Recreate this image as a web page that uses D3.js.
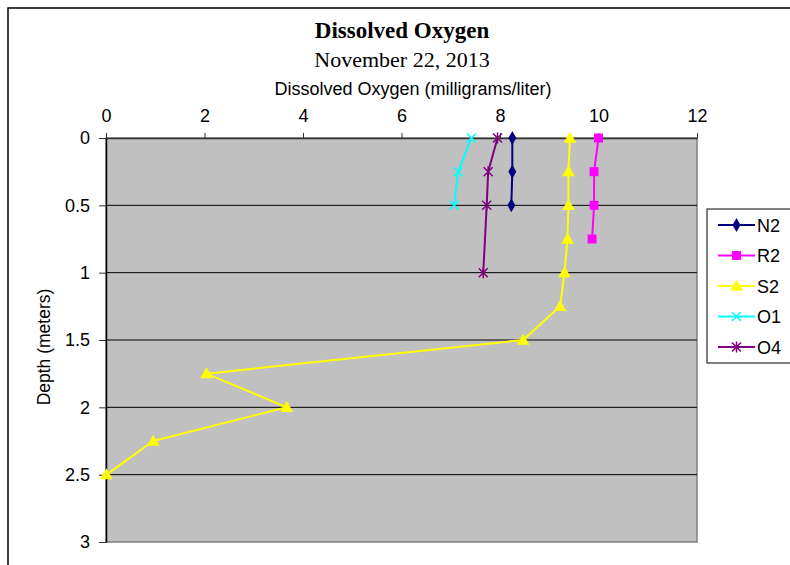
<!DOCTYPE html>
<html>
<head>
<meta charset="utf-8">
<script src="https://cdn.jsdelivr.net/npm/d3@7"></script>
<style>
  body { margin: 0; background: #fff; }
  svg { display: block; }
</style>
</head>
<body>
<svg id="chart" width="790" height="565"></svg>
<script>
// data (depth in meters, DO in mg/l)
const seriesNames = ["N2", "R2", "S2", "O1", "O4"];
const seriesColors = ["#000080", "#ff00ff", "#ffff00", "#00ffff", "#800080"];
const n2Depth = [0, 0.25, 0.5];
const n2Value = [8.25, 8.25, 8.23];
const r2Depth = [0, 0.25, 0.5, 0.75];
const r2Value = [10.0, 9.91, 9.91, 9.87];
const s2Depth = [0, 0.25, 0.5, 0.75, 1.0, 1.25, 1.5, 1.75, 2.0, 2.25, 2.5];
const s2Value = [9.42, 9.39, 9.39, 9.37, 9.31, 9.22, 8.47, 2.04, 3.67, 0.96, 0.01];
const o1Depth = [0, 0.25, 0.5];
const o1Value = [7.42, 7.15, 7.07];
const o4Depth = [0, 0.25, 0.5, 1.0];
const o4Value = [7.95, 7.76, 7.73, 7.66];
const xTicks = [0, 2, 4, 6, 8, 10, 12];
const yTicks = [0, 0.5, 1, 1.5, 2, 2.5, 3];

const series = [
    { name: "N2", depth: n2Depth, value: n2Value, symbol: d3.symbolDiamond },
    { name: "R2", depth: r2Depth, value: r2Value, symbol: d3.symbolSquare },
    { name: "S2", depth: s2Depth, value: s2Value, symbol: d3.symbolTriangle },
    { name: "O1", depth: o1Depth, value: o1Value, symbol: "x" },
    { name: "O4", depth: o4Depth, value: o4Value, symbol: "star" }
];

const sans = "Liberation Sans, Arial, sans-serif";
const serif = "Liberation Serif, Times New Roman, serif";

const svg = d3.select("#chart");
const plot = { left: 106, top: 138, right: 697, bottom: 542 };

const x = d3.scaleLinear().domain([0, 12]).range([plot.left, plot.right]);
const y = d3.scaleLinear().domain([0, 3]).range([plot.top, plot.bottom]);

// outer chart frame
svg.append("rect")
    .attr("x", 8).attr("y", 8)
    .attr("width", 800).attr("height", 600)
    .attr("fill", "#fff")
    .attr("stroke", "#000")
    .attr("stroke-width", 1.5);

// plot area
svg.append("rect")
    .attr("x", plot.left).attr("y", plot.top)
    .attr("width", plot.right - plot.left)
    .attr("height", plot.bottom - plot.top)
    .attr("fill", "#c0c0c0")
    .attr("stroke", "#808080")
    .attr("stroke-width", 1.5);

// horizontal gridlines
svg.append("g")
    .selectAll("line")
    .data(yTicks.filter(d => d > 0 && d < 3))
    .join("line")
    .attr("x1", plot.left).attr("x2", plot.right)
    .attr("y1", d => y(d)).attr("y2", d => y(d))
    .attr("stroke", "#000")
    .attr("stroke-width", 1);

// top x axis
const xAxis = svg.append("g")
    .attr("transform", `translate(0, ${plot.top})`)
    .call(d3.axisTop(x).tickValues(xTicks).tickSize(5).tickPadding(11).tickSizeOuter(0));
xAxis.select(".domain").attr("stroke", "#333").attr("stroke-width", 1.5);
xAxis.selectAll(".tick line").attr("stroke", "#333");
xAxis.selectAll("text")
    .attr("font-family", sans)
    .attr("font-size", 18)
    .attr("fill", "#000");

// left y axis
const yAxis = svg.append("g")
    .attr("transform", `translate(${plot.left}, 0)`)
    .call(d3.axisLeft(y).tickValues(yTicks).tickFormat(d3.format("~g"))
        .tickSize(7).tickPadding(9).tickSizeOuter(0));
yAxis.select(".domain").attr("stroke", "#000").attr("stroke-width", 1.5);
yAxis.selectAll(".tick line").attr("stroke", "#333");
yAxis.selectAll("text")
    .attr("font-family", sans)
    .attr("font-size", 18)
    .attr("fill", "#000");

// titles
svg.append("text")
    .attr("x", 402).attr("y", 38)
    .attr("text-anchor", "middle")
    .attr("font-family", serif)
    .attr("font-weight", "bold")
    .attr("font-size", 23)
    .text("Dissolved Oxygen");
svg.append("text")
    .attr("x", 402).attr("y", 67)
    .attr("text-anchor", "middle")
    .attr("font-family", serif)
    .attr("font-size", 22)
    .text("November 22, 2013");
svg.append("text")
    .attr("x", 413).attr("y", 95)
    .attr("text-anchor", "middle")
    .attr("font-family", sans)
    .attr("font-size", 18)
    .text("Dissolved Oxygen (milligrams/liter)");
svg.append("text")
    .attr("transform", "translate(50, 347) rotate(-90)")
    .attr("text-anchor", "middle")
    .attr("font-family", sans)
    .attr("font-size", 17.5)
    .text("Depth (meters)");

// markers
function drawMarker(g, symbol, color, cx, cy) {
    if (symbol === "x") {
        g.append("path")
            .attr("d", `M${cx - 4.5},${cy - 4.5}L${cx + 4.5},${cy + 4.5}M${cx - 4.5},${cy + 4.5}L${cx + 4.5},${cy - 4.5}`)
            .attr("stroke", color).attr("stroke-width", 1.5).attr("fill", "none");
    } else if (symbol === "star") {
        g.append("path")
            .attr("d", `M${cx - 4.5},${cy - 4.5}L${cx + 4.5},${cy + 4.5}M${cx - 4.5},${cy + 4.5}L${cx + 4.5},${cy - 4.5}M${cx},${cy - 5.5}L${cx},${cy + 5.5}`)
            .attr("stroke", color).attr("stroke-width", 1.5).attr("fill", "none");
    } else {
        let size = symbol === d3.symbolSquare ? 80 : (symbol === d3.symbolTriangle ? 70 : 55);
        g.append("path")
            .attr("transform", `translate(${cx}, ${cy + (symbol === d3.symbolTriangle ? 1 : 0)})`)
            .attr("d", d3.symbol().type(symbol).size(size)())
            .attr("fill", color);
    }
}

const line = d3.line()
    .x(d => x(d.v))
    .y(d => y(d.d));

series.forEach((s, i) => {
    const pts = s.depth.map((d, j) => ({ d: d, v: s.value[j] }));
    const g = svg.append("g");
    g.append("path")
        .datum(pts)
        .attr("fill", "none")
        .attr("stroke", seriesColors[i])
        .attr("stroke-width", 2)
        .attr("d", line);
    pts.forEach(p => drawMarker(g, s.symbol, seriesColors[i], x(p.v), y(p.d)));
});

// legend
const legend = svg.append("g");
legend.append("rect")
    .attr("x", 707).attr("y", 209)
    .attr("width", 100).attr("height", 154)
    .attr("fill", "#fff")
    .attr("stroke", "#000")
    .attr("stroke-width", 1);
series.forEach((s, i) => {
    const ly = 225 + i * 30.5;
    legend.append("line")
        .attr("x1", 718).attr("x2", 755)
        .attr("y1", ly).attr("y2", ly)
        .attr("stroke", seriesColors[i])
        .attr("stroke-width", 2);
    drawMarker(legend, s.symbol, seriesColors[i], 736.5, ly);
    legend.append("text")
        .attr("x", 757).attr("y", ly + 6.5)
        .attr("font-family", sans)
        .attr("font-size", 18)
        .text(seriesNames[i]);
});
</script>
</body>
</html>
